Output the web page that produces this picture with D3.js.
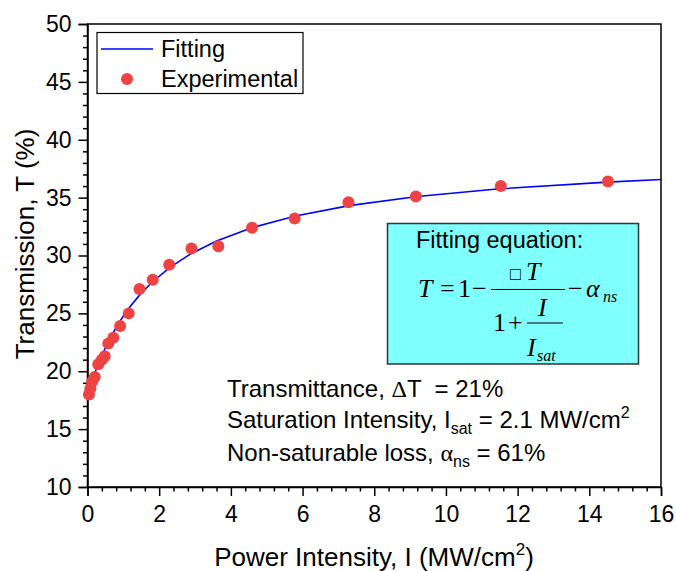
<!DOCTYPE html>
<html>
<head>
<meta charset="utf-8">
<script src="https://cdn.jsdelivr.net/npm/d3@7"></script>
<style>
  body { margin: 0; background: #fff; }
</style>
</head>
<body>
<div id="chart"></div>
<script>
// measured points (power intensity in MW/cm2, transmission in %)
var powerI = [0.04, 0.08, 0.13, 0.2, 0.3, 0.4, 0.48, 0.58, 0.72, 0.91, 1.15, 1.45, 1.82, 2.28, 2.9, 3.65, 4.59, 5.78, 7.28, 9.16, 11.53, 14.52];
var transT = [18.0, 18.5, 19.1, 19.5, 20.6, 21.0, 21.3, 22.4, 22.9, 23.9, 25.0, 27.1, 27.9, 29.2, 30.6, 30.8, 32.4, 33.2, 34.6, 35.1, 36.0, 36.4];

// fitting line
var fitI = [0, 0.1, 0.2, 0.3, 0.4, 0.6, 0.8, 1.0, 1.2, 1.5, 1.8, 2.3, 2.9, 3.6, 4.6, 5.8, 7.3, 9.2, 11.5, 14.5, 16];
var fitT = [18.0, 18.96, 19.83, 20.63, 21.36, 22.67, 23.79, 24.77, 25.64, 26.75, 27.69, 28.98, 30.18, 31.26, 32.42, 33.42, 34.31, 35.10, 35.76, 36.34, 36.56];

var xTicks = [0, 2, 4, 6, 8, 10, 12, 14, 16];
var yTicks = [10, 15, 20, 25, 30, 35, 40, 45, 50];
var legendLabels = ["Fitting", "Experimental"];

var width = 676, height = 571;
var mLeft = 87.5, mRight = 661, mTop = 24, mBottom = 487;
var sans = "Liberation Sans, Arial, sans-serif";
var serif = "Liberation Serif, Times New Roman, serif";

var svg = d3.select("#chart").append("svg")
  .attr("width", width)
  .attr("height", height)
  .attr("font-family", sans);

var x = d3.scaleLinear().domain([0, 16]).range([mLeft, mRight]);
var y = d3.scaleLinear().domain([10, 50]).range([mBottom, mTop]);

// frame
svg.append("rect")
  .attr("x", mLeft).attr("y", mTop)
  .attr("width", mRight - mLeft).attr("height", mBottom - mTop)
  .attr("fill", "none").attr("stroke", "#000").attr("stroke-width", 1.5);

// minor ticks
var xMinor = d3.range(0, 16.001, 0.4).filter(function(v){ return Math.abs(v/2 - Math.round(v/2)) > 0.01; });
var yMinor = d3.range(10, 50.001, 1).filter(function(v){ return v % 5 != 0; });

svg.append("g")
  .attr("transform", "translate(0," + mBottom + ")")
  .call(d3.axisBottom(x).tickValues(xTicks).tickSize(9).tickPadding(10).tickFormat(d3.format("d")));
svg.append("g")
  .attr("transform", "translate(0," + mBottom + ")")
  .call(d3.axisBottom(x).tickValues(xMinor).tickSize(4.5).tickFormat(""))
  .select(".domain").remove();

svg.append("g")
  .attr("transform", "translate(" + mLeft + ",0)")
  .call(d3.axisLeft(y).tickValues(yTicks).tickSize(9).tickPadding(7).tickFormat(d3.format("d")));
svg.append("g")
  .attr("transform", "translate(" + mLeft + ",0)")
  .call(d3.axisLeft(y).tickValues(yMinor).tickSize(4.5).tickFormat(""))
  .select(".domain").remove();

svg.selectAll(".domain").attr("stroke-width", 1.5);
svg.selectAll(".tick line").attr("stroke-width", 1.5);
svg.selectAll(".tick text")
  .attr("font-size", 23)
  .attr("font-family", sans);

// axis titles
svg.append("text")
  .attr("transform", "translate(34,244) rotate(-90)")
  .attr("text-anchor", "middle")
  .attr("font-size", 26)
  .text("Transmission, T (%)");

var xt = svg.append("text")
  .attr("x", 374).attr("y", 566)
  .attr("text-anchor", "middle")
  .attr("font-size", 26);
xt.append("tspan").text("Power Intensity, I (MW/cm");
xt.append("tspan").attr("font-size", 17).attr("dy", -11).text("2");
xt.append("tspan").attr("dy", 11).text(")");

// fitting curve
var line = d3.line()
  .x(function(d, i){ return x(fitI[i]); })
  .y(function(d){ return y(d); });

svg.append("path")
  .datum(fitT)
  .attr("d", line)
  .attr("fill", "none")
  .attr("stroke", "#0000ff")
  .attr("stroke-width", 1.6);

// experimental points
svg.selectAll(".pt")
  .data(transT)
  .join("circle")
  .attr("class", "pt")
  .attr("cx", function(d, i){ return x(powerI[i]); })
  .attr("cy", function(d){ return y(d); })
  .attr("r", 6)
  .attr("fill", "#ef4343");

// legend
var leg = svg.append("g");
leg.append("rect")
  .attr("x", 97).attr("y", 32.5).attr("width", 206).attr("height", 61)
  .attr("fill", "#fff").attr("stroke", "#000").attr("stroke-width", 1.2);
leg.append("line")
  .attr("x1", 101).attr("x2", 153).attr("y1", 49).attr("y2", 49)
  .attr("stroke", "#0000ff").attr("stroke-width", 1.6);
leg.append("circle")
  .attr("cx", 127).attr("cy", 79).attr("r", 6).attr("fill", "#ef4343");
leg.selectAll(".lt")
  .data(legendLabels)
  .join("text")
  .attr("class", "lt")
  .attr("x", 161)
  .attr("y", function(d, i){ return 57 + i * 30; })
  .attr("font-size", 23.5)
  .text(function(d){ return d; });

// equation box
var eq = svg.append("g").attr("font-family", serif).attr("font-size", 26);
eq.append("rect")
  .attr("x", 387.5).attr("y", 223.5).attr("width", 251).attr("height", 140.5)
  .attr("fill", "#80ffff").attr("stroke", "#333").attr("stroke-width", 1.5);
eq.append("text")
  .attr("x", 416).attr("y", 248)
  .attr("font-family", sans).attr("font-size", 23.5)
  .text("Fitting equation:");

function eqText(px, py, s, italic, size) {
  eq.append("text")
    .attr("x", px).attr("y", py)
    .attr("font-style", italic ? "italic" : "normal")
    .attr("font-size", size || 26)
    .text(s);
}
eqText(418, 297, "T", true);
eqText(440, 297, "=", false);
eqText(458, 297, "1", false);
eqText(472, 297, "\u2212", false);
eqText(510, 280, "\u25A1", false, 18);
eqText(526, 280, "T", true);
eq.append("line")
  .attr("x1", 491).attr("x2", 565).attr("y1", 289.5).attr("y2", 289.5)
  .attr("stroke", "#000").attr("stroke-width", 1.2);
eqText(493, 331, "1", false);
eqText(508, 331, "+", false);
eq.append("line")
  .attr("x1", 527).attr("x2", 563).attr("y1", 323).attr("y2", 323)
  .attr("stroke", "#000").attr("stroke-width", 1.2);
eqText(538, 316, "I", true);
eqText(527, 356, "I", true);
eqText(537, 361, "sat", true, 16);
eqText(568, 297, "\u2212", false);
eqText(586, 297, "\u03B1", true);
eqText(603, 302, "ns", true, 16);

// parameter annotations
var t1 = svg.append("text").attr("x", 227).attr("y", 397).attr("font-size", 24)
  .style("white-space", "pre");
t1.append("tspan").text("Transmittance, ");
t1.append("tspan").attr("font-family", serif).text("\u0394");
t1.append("tspan").text("T  = 21%");

var t2 = svg.append("text").attr("x", 227).attr("y", 428).attr("font-size", 24);
t2.append("tspan").text("Saturation Intensity, I");
t2.append("tspan").attr("font-size", 16).attr("dy", 6).text("sat");
t2.append("tspan").attr("dy", -6).text(" = 2.1 MW/cm");
t2.append("tspan").attr("font-size", 16).attr("dy", -10).text("2");

var t3 = svg.append("text").attr("x", 227).attr("y", 461).attr("font-size", 24);
t3.append("tspan").text("Non-saturable loss, ");
t3.append("tspan").attr("font-family", serif).text("\u03B1");
t3.append("tspan").attr("font-size", 16).attr("dy", 6).text("ns");
t3.append("tspan").attr("dy", -6).text(" = 61%");
</script>
</body>
</html>
